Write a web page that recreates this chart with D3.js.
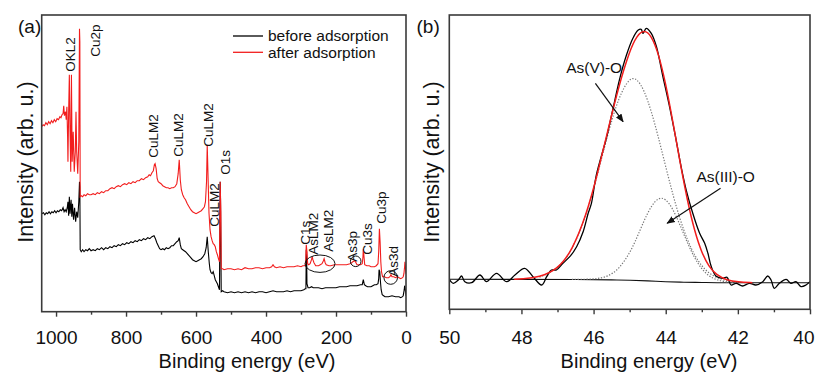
<!DOCTYPE html>
<html>
<head>
<meta charset="utf-8">
<script src="https://cdn.jsdelivr.net/npm/d3@7"></script>
<style>
  html, body { margin: 0; padding: 0; background: #fff; }
  body { width: 815px; height: 372px; overflow: hidden; }
  text { font-family: "Liberation Sans", Arial, sans-serif; fill: #111; }
</style>
</head>
<body>
<script>
const width = 815;
const height = 372;

// (a) survey spectra: [binding energy (eV), intensity (arb. u.)]
const surveyBefore = [
  [1041,98],[1036,99],[1032,97],[1028,99],[1024,98],[1020,100],[1016,98],[1012,100],[1008,99],[1004,101],
  [1000,99],[996,101],[992,100],[988,102],[984,101],[980,104],[977,100],[974,102],[971,100],[968,104],
  [966,110],[964,96],[962,115],[960,98],[957,112],[955,95],[953,108],[950,92],[947,104],[944,90],
  [941,100],[938,94],[935,110],[933,130],[932,125],[931,62],[928,60],[924,62],[920,60],[915,62],
  [910,61],[905,63],[900,61],[894,62],[888,61],[882,63],[876,62],[870,64],[864,62],[858,64],
  [852,63],[846,65],[840,64],[834,66],[828,65],[822,67],[816,66],[810,68],[804,67],[798,69],
  [792,68],[786,70],[780,69],[774,71],[768,70],[762,72],[756,71],[750,73],[744,72],[738,74],
  [732,73],[726,75],[720,76],[716,73],[712,69],[708,66],[704,63],[700,62],[695,63],[690,62],
  [685,64],[680,63],[675,64],[670,66],[665,66],[660,68],[655,70],[651,71],[648,74],[645,67],
  [642,63],[638,62],[634,61],[630,60],[625,58],[620,56],[615,54],[610,52],[605,51],[600,50],
  [595,51],[590,52],[585,53],[580,55],[575,58],[571,64],[568,75],[565,60],[562,48],[560,42],
  [557,39],[554,38],[551,40],[548,36],[545,32],[542,30],[539,28],[536,25],[533,22],[531,130],
  [530,112],[528,20],[524,21],[520,20],[510,19],[500,20],[490,19],[480,20],[470,19],[460,20],
  [450,19],[440,20],[430,19],[420,20],[410,20],[400,19],[390,20],[380,21],[370,20],[360,20],
  [350,20],[340,21],[330,20],[320,21],[310,21],[300,21],[292,22],[288,23],[286,23],[285,62],
  [284,60],[283,28],[280,24],[275,24],[270,25],[265,24],[260,24],[250,24],[240,23],[230,24],
  [220,24],[210,24],[200,24],[190,25],[180,25],[170,25],[160,26],[150,26],[140,26],[130,27],
  [125,27],[122,32],[119,27],[115,26],[110,25],[100,25],[95,26],[90,27],[85,27],[80,28],
  [78,33],[77,42],[75,40],[73,30],[71,22],[68,17],[64,16],[60,15],[50,15],[40,16],
  [30,15],[20,15],[15,14],[10,15],[8,16],[5,22],[4,26],[2,22],[0,16]
];

const surveyAfter = [
  [1041,185],[1037,187],[1033,186],[1029,189],[1025,187],[1021,190],[1017,188],[1013,191],[1009,189],[1005,192],
  [1001,190],[997,193],[993,192],[989,195],[986,194],[983,197],[980,198],[978,206],[976,196],[973,200],
  [971,192],[969,205],[967,175],[966,150],[964,200],[962,237],[960,180],[958,140],[956,237],[954,150],
  [951,180],[948,140],[945,160],[943,200],[941,160],[938,138],[935,170],[933,283],[932,270],[931,115],
  [928,116],[924,115],[920,117],[915,116],[910,118],[905,117],[900,117],[894,118],[888,117],[882,119],
  [876,118],[870,120],[864,119],[858,121],[852,121],[846,123],[840,124],[834,123],[828,125],[822,126],
  [816,125],[810,127],[804,128],[798,127],[792,129],[786,128],[780,130],[774,129],[768,131],[762,131],
  [756,133],[750,132],[744,134],[738,135],[734,137],[730,136],[726,139],[722,141],[719,147],[717,148],
  [714,143],[711,133],[708,130],[704,129],[700,128],[695,126],[690,125],[685,124],[680,124],[675,123],
  [670,124],[665,124],[660,125],[655,128],[651,138],[648,152],[645,132],[642,122],[638,117],[634,114],
  [630,112],[625,108],[620,105],[615,102],[610,100],[605,99],[600,98],[595,99],[590,100],[585,101],
  [580,103],[576,105],[573,110],[570,130],[568,167],[566,140],[563,99],[560,82],[557,75],[554,71],
  [551,68],[548,67],[545,65],[542,60],[539,57],[536,53],[533,50],[531,130],[529,100],[528,43],
  [524,43],[520,42],[510,43],[500,43],[490,42],[480,43],[470,42],[460,44],[450,43],[440,43],
  [430,44],[420,44],[410,43],[400,44],[390,44],[384,45],[380,47],[376,45],[370,44],[360,45],
  [350,44],[340,45],[330,45],[320,45],[310,46],[300,45],[295,46],[290,46],[287,47],[285,67],
  [283,60],[281,48],[278,47],[274,48],[270,52],[268,55],[266,52],[263,49],[258,46],[250,46],
  [245,47],[240,48],[236,51],[234,53],[231,49],[228,47],[220,46],[215,46],[205,47],[200,47],
  [190,47],[180,47],[170,47],[160,48],[155,49],[152,50],[146,51],[143,49],[140,47],[135,47],
  [130,47],[125,48],[123,55],[122,63],[120,55],[118,47],[112,46],[105,46],[100,45],[95,45],
  [90,45],[85,46],[80,48],[78,60],[76,83],[74,70],[72,50],[70,40],[67,35],[62,35],
  [56,34],[50,34],[46,35],[43,37],[40,35],[35,35],[30,34],[25,35],[20,34],[15,33],
  [10,34],[8,35],[6,38],[4,45],[3,50],[1,42],[0,38]
];

// peak labels in (a): [text, eV, intensity where the label starts]
const peakLabels = [
  ["OKL2", 946, 240], ["Cu2p", 874, 255], ["CuLM2", 709, 154], ["CuLM2", 637, 155],
  ["CuLM2", 551, 165], ["O1s", 503, 137], ["CuLM2", 534, 85], ["C1s", 274, 67],
  ["AsLM2", 251, 57], ["AsLM2", 209, 60], ["As3p", 140, 50], ["Cu3s", 96, 57],
  ["Cu3p", 57, 88], ["As3d", 23, 35]
];
// circled As features in (a): [eV, intensity, rx, ry]
const asMarks = [[245.7, 48, 15, 8.7], [143.7, 50.4, 5.3, 5.3], [43.7, 34.2, 6.8, 6.8]];

const ticksA = [1000, 800, 600, 400, 200, 0];
const minorA = [900, 700, 500, 300, 100];
const ticksB = [50, 48, 46, 44, 42, 40];
const minorB = [49, 47, 45, 43, 41];

// (b) As 3d high resolution: [eV, intensity]
const as3dData = [
  [50,0],[49.89,-4],[49.75,-0.7],[49.66,3.3],[49.57,-2.4],[49.38,-3.4],[49.15,4.3],[48.97,-2.4],
  [48.69,6],[48.41,-2.4],[48.18,4.3],[47.91,11],[47.68,2.6],[47.44,-5.7],[47.3,2.6],[47.17,9.3],
  [47.03,9.3],[46.85,16],[46.66,22.6],[46.47,32.6],[46.29,47.6],[46.15,66],[46.06,76],[45.92,105],
  [45.64,142],[45.46,171],[45.28,200],[45.09,224],[44.91,241],[44.77,249],[44.68,250],[44.63,246],
  [44.54,251],[44.4,246],[44.26,233],[44.08,203],[43.89,172],[43.71,139],[43.57,112],[43.43,89],
  [43.25,66],[43.06,46],[42.92,36],[42.83,26],[42.74,13],[42.6,3],[42.42,1],[42.3,2],
  [42.19,-5.7],[42.05,-4],[41.87,-6.7],[41.68,-4],[41.5,-5.7],[41.31,-2.4],[41.17,3.3],[41.08,-0.7],
  [40.99,-9],[40.85,-4],[40.66,0],[40.53,-4],[40.39,-2.4],[40.25,-7.3],[40.11,-5.7],[40,-2.4]
];
const as3dFit = [
  [48.2,0],[48,0.3],[47.5,2],[47,9.9],[46.6,28.3],[46.2,64.4],[45.9,104],[45.6,149.6],
  [45.3,193.6],[45,228.7],[44.8,243.7],[44.6,249.7],[44.4,244],[44.2,225.9],[44,195.8],[43.8,157.3],
  [43.6,116.3],[43.4,78.6],[43.2,48],[43,26.3],[42.8,12.5],[42.6,4.5],[42.3,-1],[42,-2.7],[41.6,-3.4]
];
const asVPeak = [
  [47.5,2],[47,9.8],[46.6,28.1],[46.2,64.3],[45.9,103.2],[45.6,146.3],[45.3,182.9],[45,201.8],
  [44.8,201],[44.6,189.3],[44.4,168.4],[44.2,141.7],[44,112.6],[43.8,84.3],[43.6,59.4],[43.4,39.2],
  [43.2,23.8],[43,13.1],[42.8,6.1],[42.6,1.8],[42.3,-1.6],[42,-2.8]
];
const asIIIPeak = [
  [46.6,0],[46.2,0],[45.9,0.5],[45.6,2.8],[45.3,10],[45,25.9],[44.8,41.4],[44.6,58.8],
  [44.4,73.6],[44.2,82],[44,80.8],[43.8,70.4],[43.6,54.1],[43.4,36.5],[43.2,21.1],[43,10],
  [42.8,3.1],[42.6,-0.6],[42.3,-2.8],[42,-3.3]
];
const as3dBackground = [
  [50,0],[46.5,-0.2],[45.5,-0.6],[45,-1],[44.5,-1.6],[44,-2.4],[43.5,-2.9],[43,-3.2],[42.5,-3.4],[40,-3.4]
];

const RED = "#f21d1d";
const FRAME = "#3a3a3a";

function setupChart() {
  const svg = d3.create("svg")
    .attr("width", width)
    .attr("height", height)
    .attr("viewBox", [0, 0, width, height]);

  const defs = svg.append("defs");
  defs.append("marker")
    .attr("id", "arrow")
    .attr("viewBox", "0 0 10 10")
    .attr("refX", 9).attr("refY", 5)
    .attr("markerWidth", 7).attr("markerHeight", 7)
    .attr("orient", "auto")
    .append("path")
    .attr("d", "M0,1 L10,5 L0,9 Z")
    .attr("fill", "#111");

  const xA = d3.scaleLinear().domain([1041, 0]).range([41.7, 406]);
  const yA = d3.scaleLinear().domain([0, 296.7]).range([311.7, 15]);
  const xB = d3.scaleLinear().domain([50, 40]).range([449.3, 810]);
  const yB = d3.scaleLinear().domain([-30, 264.3]).range([309.3, 15]);

  const panel = (id, x, y) => {
    const [x0, x1] = x.range();
    const [y1, y0] = y.range();
    defs.append("clipPath").attr("id", id)
      .append("rect").attr("x", x0).attr("y", y0).attr("width", x1 - x0).attr("height", y1 - y0);
    return { x0, x1, y0, y1 };
  };
  const boxA = panel("clipA", xA, yA);
  const boxB = panel("clipB", xB, yB);

  // ---- panel (a) ----
  const lineA = d3.line().x((d) => xA(d[0])).y((d) => yA(d[1]));
  const gA = svg.append("g").attr("clip-path", "url(#clipA)");
  gA.append("path").datum(surveyBefore)
    .attr("d", lineA).attr("fill", "none").attr("stroke", "#000").attr("stroke-width", 1.1);
  gA.append("path").datum(surveyAfter)
    .attr("d", lineA).attr("fill", "none").attr("stroke", RED).attr("stroke-width", 1.1);

  svg.append("g").selectAll("text")
    .data(peakLabels)
    .join("text")
    .attr("transform", (d) => `translate(${xA(d[1])},${yA(d[2])}) rotate(-90)`)
    .attr("font-size", 13.5)
    .text((d) => d[0]);

  svg.append("g").selectAll("ellipse")
    .data(asMarks)
    .join("ellipse")
    .attr("cx", (d) => xA(d[0])).attr("cy", (d) => yA(d[1]))
    .attr("rx", (d) => d[2]).attr("ry", (d) => d[3])
    .attr("fill", "none").attr("stroke", "#111").attr("stroke-width", 1);

  // legend
  const legend = [["before adsorption", "#000"], ["after adsorption", RED]];
  const lg = svg.append("g").selectAll("g").data(legend).join("g")
    .attr("transform", (d, i) => `translate(233,${36 + i * 16.3})`);
  lg.append("line").attr("x1", 0).attr("x2", 30)
    .attr("stroke", (d) => d[1]).attr("stroke-width", 1.3);
  lg.append("text").attr("x", 35).attr("dy", "0.35em").attr("font-size", 15.5).text((d) => d[0]);

  // ---- panel (b) ----
  const lineB = d3.line().x((d) => xB(d[0])).y((d) => yB(d[1]));
  const gB = svg.append("g").attr("clip-path", "url(#clipB)");
  gB.append("path").datum(as3dBackground)
    .attr("d", lineB.curve(d3.curveMonotoneX)).attr("fill", "none").attr("stroke", "#111").attr("stroke-width", 1.1);
  [asVPeak, asIIIPeak].forEach((pk) => {
    gB.append("path").datum(pk)
      .attr("d", lineB.curve(d3.curveBasis)).attr("fill", "none")
      .attr("stroke", "#777").attr("stroke-width", 1.2).attr("stroke-dasharray", "1.3,1.6");
  });
  gB.append("path").datum(as3dData)
    .attr("d", lineB.curve(d3.curveCatmullRom)).attr("fill", "none").attr("stroke", "#000").attr("stroke-width", 1.3);
  gB.append("path").datum(as3dFit)
    .attr("d", lineB.curve(d3.curveBasis)).attr("fill", "none").attr("stroke", RED).attr("stroke-width", 1.5);

  const notes = [
    { text: "As(V)-O", at: [46.76, 206], from: [45.95, 196], to: [45.18, 157.6] },
    { text: "As(III)-O", at: [43.15, 97.8], from: [42.48, 91], to: [43.96, 56] },
  ];
  notes.forEach((n) => {
    svg.append("text").attr("x", xB(n.at[0])).attr("y", yB(n.at[1]))
      .attr("font-size", 15.5).text(n.text);
    svg.append("line")
      .attr("x1", xB(n.from[0])).attr("y1", yB(n.from[1]))
      .attr("x2", xB(n.to[0])).attr("y2", yB(n.to[1]))
      .attr("stroke", "#111").attr("stroke-width", 1.2).attr("marker-end", "url(#arrow)");
  });

  // ---- frames, axes, titles ----
  [[boxA, xA, ticksA, minorA], [boxB, xB, ticksB, minorB]].forEach(([box, x, major, minor]) => {
    const axisMinor = d3.axisBottom(x).tickValues(minor).tickSize(3).tickFormat("");
    const axisMajor = d3.axisBottom(x).tickValues(major).tickSize(5)
      .tickPadding(331 - box.y1 - 5).tickFormat(d3.format("d"));
    [axisMinor, axisMajor].forEach((ax) => {
      const g = svg.append("g").attr("transform", `translate(0,${box.y1})`).call(ax);
      g.select(".domain").remove();
      g.selectAll("line").attr("stroke", FRAME).attr("stroke-width", 1.4);
      g.selectAll("text").attr("font-size", 19).attr("font-family", null).attr("fill", "#111");
      // keep the right-most label of the page inside the picture
      g.selectAll("text").filter((d) => x(d) > 805)
        .attr("text-anchor", "end").attr("dx", width - 1 - x.range()[1]);
    });
    svg.append("rect")
      .attr("x", box.x0).attr("y", box.y0)
      .attr("width", box.x1 - box.x0).attr("height", box.y1 - box.y0)
      .attr("fill", "none").attr("stroke", FRAME).attr("stroke-width", 1.6);
  });

  [[247, 33, "(a)", 18], [649, 439, "(b)", 416.5]].forEach(([cx, ly, letter, lx]) => {
    svg.append("text").attr("x", cx).attr("y", 368)
      .attr("text-anchor", "middle").attr("font-size", 20).text("Binding energy (eV)");
    svg.append("text")
      .attr("transform", `translate(${ly},162) rotate(-90)`)
      .attr("text-anchor", "middle").attr("font-size", 21.5).text("Intensity (arb. u.)");
    svg.append("text").attr("x", lx).attr("y", 33).attr("font-size", 19).text(letter);
  });

  return svg.node();
}

document.body.appendChild(setupChart());
</script>
</body>
</html>
